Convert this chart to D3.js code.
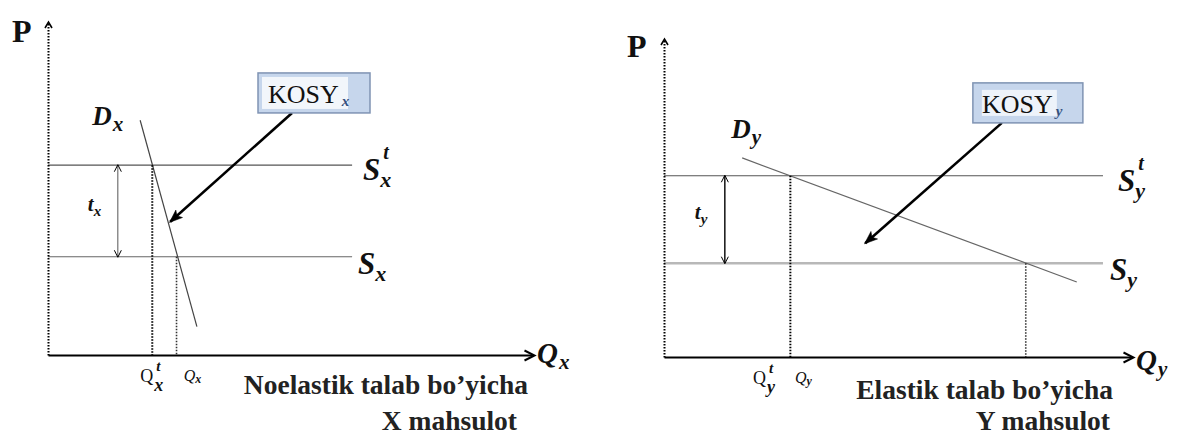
<!DOCTYPE html>
<html>
<head>
<meta charset="utf-8">
<script src="https://cdnjs.cloudflare.com/ajax/libs/d3/7.8.5/d3.min.js"></script>
<style>
body { margin: 0; background: #fff; }
svg { display: block; }
text { font-family: "Liberation Serif", "Times New Roman", "DejaVu Serif", serif; }
</style>
</head>
<body>
<svg id="chart" width="1177" height="436"></svg>
<script>
// chart values, in axis units (0..100 on both axes of each panel)
const goods = ['x', 'y'];
const taxedPrice = [57, 57];              // S^t level
const supplyPrice = [29.5, 29.5];         // S level
const supplyEnd = [62.7, 93.8];           // where the supply lines stop
const taxedQty = [21.5, 27];              // Q^t
const freeQty = [26.5, 77.3];             // Q
const demandFrom = [[19, 70.5], [16.7, 62.6]];
const demandTo = [[30.7, 8.5], [88.2, 23.6]];
const taxArrowAt = [14.4, 13];
const qLabelAt = [19, 28];                // Q^t and Q tick labels
const kosyBoxAt = [[43.3, 84.7], [66, 86.2]];
const kosyTipAt = [[25.2, 40], [43, 35.8]];
const caption1 = ['Noelastik talab bo\u2019yicha', 'Elastik talab bo\u2019yicha'];
const caption2 = ['X mahsulot', 'Y mahsulot'];

const frames = [
    {x0: 48, x1: 533, y0: 355, y1: 22},
    {x0: 664, x1: 1132, y0: 357, y1: 39}
];

let svg = d3.select('#chart');
let defs = svg.append('defs');

function marker(id, path, w, h, refX, refY, fill, sw) {
    defs.append('marker')
        .attr('id', id)
        .attr('markerUnits', 'userSpaceOnUse')
        .attr('markerWidth', w).attr('markerHeight', h)
        .attr('refX', refX).attr('refY', refY)
        .attr('orient', 'auto-start-reverse')
        .attr('overflow', 'visible')
        .append('path')
        .attr('d', path)
        .attr('fill', fill)
        .attr('stroke', '#000')
        .attr('stroke-width', sw);
}
marker('axisHead', 'M0,0 L10,5 L0,10', 10, 10, 9, 5, 'none', 2);
marker('pHead', 'M0,0 L6,3.5 L0,7', 7, 7, 5.5, 3.5, 'none', 1.6);
marker('kosyHead', 'M0,0 L13,5 L0,10 L3,5 Z', 13, 10, 12, 5, '#000', 0.5);
marker('taxHead', 'M0,0 L7,3.5 L0,7', 7, 7, 6.5, 3.5, 'none', 1);

// one text element: main glyph, then subscript, then superscript stacked over it
function symbol(g, px, py, main, size, opt) {
    opt = opt || {};
    let t = g.append('text')
        .attr('x', px).attr('y', py)
        .attr('fill', '#111');
    t.append('tspan')
        .attr('font-size', size)
        .attr('font-weight', opt.weight || 'bold')
        .attr('font-style', opt.style || 'italic')
        .text(main);
    if (opt.sub) {
        let s = t.append('tspan')
            .attr('dx', opt.subDx || 0).attr('dy', opt.subDy)
            .attr('font-size', opt.subSize)
            .attr('font-weight', 'bold').attr('font-style', 'italic')
            .attr('fill', opt.subFill || '#111')
            .text(opt.sub);
        if (opt.sup) {
            let sw = s.node().getComputedTextLength();
            t.append('tspan')
                .attr('dx', -sw - (opt.subDx || 0) + (opt.supDx || 0))
                .attr('dy', opt.supDy - opt.subDy)
                .attr('font-size', opt.supSize)
                .attr('font-weight', 'bold').attr('font-style', 'italic')
                .text(opt.sup);
        }
    }
}

goods.forEach(function(name, i) {
    let f = frames[i];
    let x = d3.scaleLinear().domain([0, 100]).range([f.x0, f.x1]);
    let y = d3.scaleLinear().domain([0, 100]).range([f.y0, f.y1]);
    let g = svg.append('g');

    // supply lines
    g.append('line')
        .attr('x1', x(0)).attr('x2', x(supplyEnd[i]))
        .attr('y1', y(taxedPrice[i])).attr('y2', y(taxedPrice[i]))
        .attr('stroke', '#555').attr('stroke-width', 1.2);
    g.append('line')
        .attr('x1', x(0)).attr('x2', x(supplyEnd[i]))
        .attr('y1', y(supplyPrice[i])).attr('y2', y(supplyPrice[i]))
        .attr('stroke', i ? '#b8b8b8' : '#666').attr('stroke-width', i ? 2.5 : 1.2);

    // demand
    g.append('line')
        .attr('x1', x(demandFrom[i][0])).attr('y1', y(demandFrom[i][1]))
        .attr('x2', x(demandTo[i][0])).attr('y2', y(demandTo[i][1]))
        .attr('stroke', i ? '#666' : '#444').attr('stroke-width', 1.2);

    // dotted quantity drops
    g.append('line')
        .attr('x1', x(taxedQty[i])).attr('x2', x(taxedQty[i]))
        .attr('y1', y(taxedPrice[i])).attr('y2', y(0))
        .attr('stroke', '#000').attr('stroke-width', 2).attr('stroke-dasharray', '1.5,1.5');
    g.append('line')
        .attr('x1', x(freeQty[i])).attr('x2', x(freeQty[i]))
        .attr('y1', y(supplyPrice[i])).attr('y2', y(0))
        .attr('stroke', '#333').attr('stroke-width', 1.6).attr('stroke-dasharray', '1.5,1.5');

    // axes
    let yAxis = g.append('g')
        .attr('transform', 'translate(' + x(0) + ',0)')
        .call(d3.axisLeft(y).tickValues([]).tickSizeOuter(0));
    yAxis.select('.domain')
        .attr('stroke', '#000').attr('stroke-width', 2)
        .attr('stroke-dasharray', '1.5,1.5')
        .attr('marker-end', 'url(#pHead)');
    let xAxis = g.append('g')
        .attr('transform', 'translate(0,' + y(0) + ')')
        .call(d3.axisBottom(x).tickValues([]).tickSizeOuter(0));
    xAxis.select('.domain')
        .attr('stroke', '#000').attr('stroke-width', 2.2)
        .attr('marker-end', 'url(#axisHead)');

    // tax wedge arrow
    g.append('line')
        .attr('x1', x(taxArrowAt[i])).attr('x2', x(taxArrowAt[i]))
        .attr('y1', y(taxedPrice[i])).attr('y2', y(supplyPrice[i]))
        .attr('stroke', i ? '#000' : '#555').attr('stroke-width', i ? 1.4 : 1)
        .attr('marker-start', 'url(#taxHead)')
        .attr('marker-end', 'url(#taxHead)');

    // KOSY callout
    let bx = x(kosyBoxAt[i][0]), by = y(kosyBoxAt[i][1]);
    let bw = i ? 110 : 112, bh = 40;
    g.append('line')
        .attr('x1', bx + (i ? 29 : 34)).attr('y1', by + bh)
        .attr('x2', x(kosyTipAt[i][0])).attr('y2', y(kosyTipAt[i][1]))
        .attr('stroke', '#000').attr('stroke-width', 2.6)
        .attr('marker-end', 'url(#kosyHead)');
    g.append('rect')
        .attr('x', bx).attr('y', by).attr('width', bw).attr('height', bh)
        .attr('fill', '#c6d6ec').attr('stroke', '#7f93b3').attr('stroke-width', 1.5);
    g.append('rect')
        .attr('x', bx + (i ? 9 : 4)).attr('y', by + (i ? 7 : 4))
        .attr('width', i ? 75 : 86).attr('height', bh - (i ? 14 : 8))
        .attr('fill', i ? '#eef3fa' : '#f2f6fb');
    symbol(g, bx + (i ? 9 : 10), by + 30, 'KOSY', 26, {
        weight: 'normal', style: 'normal',
        sub: name, subSize: 15, subDy: 3, subDx: 3, subFill: '#34507e'
    });

    // labels
    let sx = x(supplyEnd[i]);
    symbol(g, sx + (i ? 15 : 11), y(taxedPrice[i]) + 15, 'S', 31,
        {sub: name, subSize: 22, subDy: 7, sup: 't', supSize: 20, supDy: -21, supDx: 3});
    symbol(g, sx + (i ? 7 : 6), y(supplyPrice[i]) + 17, 'S', 31,
        {sub: name, subSize: 22, subDy: 7});
    let dx0 = x(demandFrom[i][0]), dy0 = y(demandFrom[i][1]);
    symbol(g, dx0 + (i ? -11 : -48), dy0 + (i ? -20 : 5), 'D', 27,
        {sub: name, subSize: 21, subDy: 6, subDx: 1});
    symbol(g, x(taxArrowAt[i]) - 30, (y(taxedPrice[i]) + y(supplyPrice[i])) / 2, 't', 21,
        {sub: name, subSize: 15, subDy: 5});
    symbol(g, x(100) + 4, y(0) + (i ? 13 : 8), 'Q', 29,
        {sub: name, subSize: 21, subDy: 6, subDx: 1});
    symbol(g, x(qLabelAt[0]), y(0) + 27, 'Q', 18,
        {weight: 'normal', style: 'normal',
         sub: name, subSize: 18, subDy: 9, subDx: 1,
         sup: 't', supSize: 15, supDy: -11, supDx: 3});
    symbol(g, x(qLabelAt[1]), y(0) + 26, 'Q', 16,
        {weight: 'normal', sub: name, subSize: 12, subDy: 2});
    symbol(g, x(0) - (i ? 37 : 36), y(100) + (i ? 18 : 20), 'P', 32, {style: 'normal'});

    // caption
    g.append('text')
        .attr('x', i ? 1113 : 528).attr('y', i ? 399 : 394)
        .attr('text-anchor', 'end')
        .attr('font-weight', 'bold')
        .attr('font-size', 27.5).attr('fill', '#222')
        .text(caption1[i]);
    g.append('text')
        .attr('x', i ? 1110 : 517).attr('y', 430)
        .attr('text-anchor', 'end')
        .attr('font-weight', 'bold')
        .attr('font-size', 27.5).attr('fill', '#222')
        .text(caption2[i]);
});
</script>
</body>
</html>
